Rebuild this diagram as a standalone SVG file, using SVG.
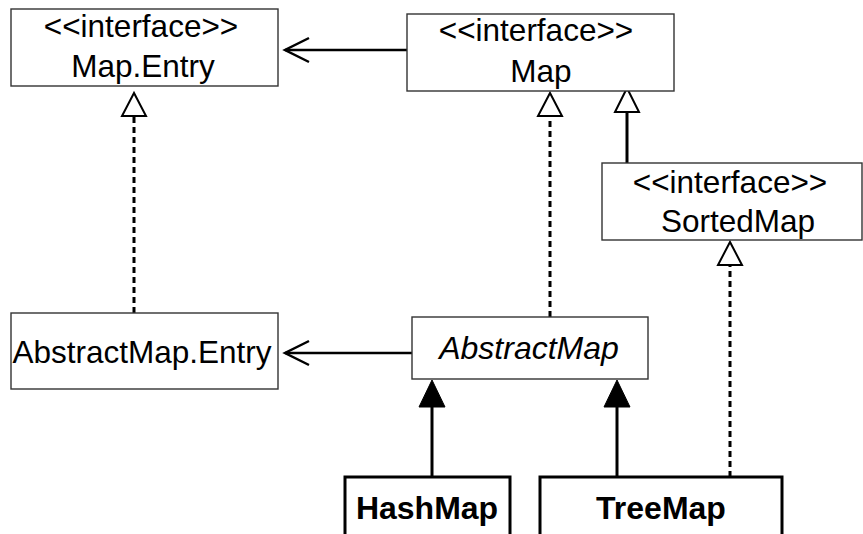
<svg xmlns="http://www.w3.org/2000/svg" width="863" height="534" viewBox="0 0 863 534">
<style>
  .box { fill: #ffffff; stroke: #333333; stroke-width: 1.4; }
  .cls { fill: #ffffff; stroke: #000000; stroke-width: 3; }
  .t { font-family: "Liberation Sans", Arial, Helvetica, sans-serif; font-size: 31.5px; fill: #000000; text-anchor: middle; }
  .it { font-style: italic; font-size: 32px; }
  .b { font-weight: bold; font-size: 32px; }
  .ln { stroke: #000000; stroke-width: 2.5; fill: none; }
  .dash { stroke: #000000; stroke-width: 3; fill: none; stroke-dasharray: 6 4; }
  .hollow { fill: #ffffff; stroke: #000000; stroke-width: 2; }
  .filled { fill: #000000; stroke: #000000; stroke-width: 1; }
</style>
<rect width="863" height="534" fill="#ffffff"/>

<g id="connectors">
  <!-- Map -> Map.Entry association -->
  <line class="ln" x1="407" y1="50" x2="285" y2="50"/>
  <polyline class="ln" points="309,38 285,50 309,62"/>
  <!-- AbstractMap -> AbstractMap.Entry association -->
  <line class="ln" x1="412" y1="353" x2="285" y2="353"/>
  <polyline class="ln" points="309,341 285,353 309,365"/>
  <!-- AbstractMap.Entry realizes Map.Entry -->
  <line class="dash" x1="134" y1="313" x2="134" y2="116"/>
  <polygon class="hollow" points="134,93 122,116 146,116"/>
  <!-- AbstractMap realizes Map -->
  <line class="dash" x1="550" y1="317" x2="550" y2="116"/>
  <polygon class="hollow" points="550,93 538,116 562,116"/>
  <!-- SortedMap extends Map -->
  <line class="ln" style="stroke-width:3" x1="627" y1="163" x2="627" y2="112"/>
  <polygon class="hollow" points="627,88 615,112 639,112"/>
  <!-- HashMap extends AbstractMap -->
  <line class="ln" style="stroke-width:3" x1="432" y1="477" x2="432" y2="406"/>
  <polygon class="filled" points="432,380 419,407 445,407"/>
  <!-- TreeMap extends AbstractMap -->
  <line class="ln" style="stroke-width:3" x1="617" y1="477" x2="617" y2="406"/>
  <polygon class="filled" points="617,380 604,407 630,407"/>
  <!-- TreeMap realizes SortedMap -->
  <line class="dash" x1="730" y1="477" x2="730" y2="265"/>
  <polygon class="hollow" points="730,242 718,265 742,265"/>
</g>

<g id="map-entry">
  <rect class="box" x="11" y="9" width="267" height="77"/>
  <text class="t" x="141" y="37">&lt;&lt;interface&gt;&gt;</text>
  <text class="t" x="143" y="77">Map.Entry</text>
</g>

<g id="map">
  <rect class="box" x="407" y="14" width="267" height="77"/>
  <text class="t" x="536" y="41">&lt;&lt;interface&gt;&gt;</text>
  <text class="t" x="541" y="82">Map</text>
</g>

<g id="sorted-map">
  <rect class="box" x="602" y="163" width="260" height="77"/>
  <text class="t" x="730" y="193">&lt;&lt;interface&gt;&gt;</text>
  <text class="t" x="738" y="232">SortedMap</text>
</g>

<g id="abstract-map-entry">
  <rect class="box" x="11" y="313" width="267" height="76"/>
  <text class="t" x="142" y="363">AbstractMap.Entry</text>
</g>

<g id="abstract-map">
  <rect class="box" x="412" y="317" width="236" height="62"/>
  <text class="t it" x="529" y="359">AbstractMap</text>
</g>

<g id="hash-map">
  <rect class="cls" x="345" y="477" width="165" height="80"/>
  <text class="t b" x="427" y="519">HashMap</text>
</g>

<g id="tree-map">
  <rect class="cls" x="540" y="477" width="242" height="80"/>
  <text class="t b" x="661" y="519">TreeMap</text>
</g>
</svg>
